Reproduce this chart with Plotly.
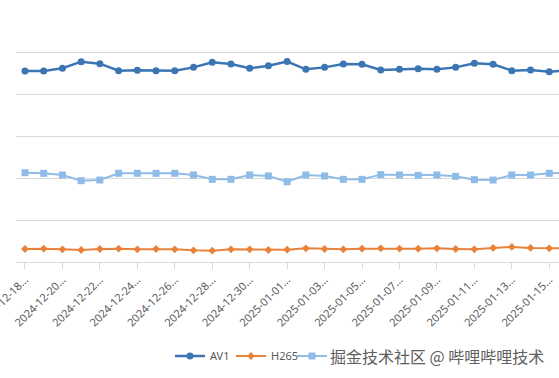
import plotly.graph_objects as go

dates = [
    "2024-12-18", "2024-12-19", "2024-12-20", "2024-12-21", "2024-12-22",
    "2024-12-23", "2024-12-24", "2024-12-25", "2024-12-26", "2024-12-27",
    "2024-12-28", "2024-12-29", "2024-12-30", "2024-12-31", "2025-01-01",
    "2025-01-02", "2025-01-03", "2025-01-04", "2025-01-05", "2025-01-06",
    "2025-01-07", "2025-01-08", "2025-01-09", "2025-01-10", "2025-01-11",
    "2025-01-12", "2025-01-13", "2025-01-14", "2025-01-15", "2025-01-16",
]

av1 = [22.74, 22.74, 23.06, 23.85, 23.61, 22.78, 22.82, 22.78, 22.78, 23.17,
       23.77, 23.57, 23.06, 23.37, 23.87, 22.94, 23.17, 23.57, 23.53, 22.86,
       22.94, 23.02, 22.94, 23.17, 23.65, 23.53, 22.78, 22.86, 22.66, 22.82]

h265 = [1.55, 1.59, 1.51, 1.43, 1.55, 1.59, 1.51, 1.55, 1.51, 1.39,
        1.35, 1.51, 1.51, 1.43, 1.47, 1.63, 1.55, 1.51, 1.59, 1.63,
        1.59, 1.59, 1.63, 1.55, 1.51, 1.67, 1.79, 1.67, 1.63, 1.63]

h264 = [10.63, 10.56, 10.36, 9.68, 9.76, 10.56, 10.56, 10.56, 10.56, 10.36,
        9.84, 9.84, 10.36, 10.24, 9.56, 10.36, 10.24, 9.84, 9.84, 10.40,
        10.36, 10.32, 10.36, 10.20, 9.80, 9.76, 10.36, 10.36, 10.56, 10.60]

tick_dates = dates[0:29:2]
tick_labels = [d + "…" for d in tick_dates]

fig = go.Figure()
fig.add_trace(go.Scatter(
    x=dates, y=av1, name="AV1", mode="lines+markers",
    line=dict(color="#3B75B4", width=2.5),
    marker=dict(symbol="circle", size=7, color="#3B75B4"),
))
fig.add_trace(go.Scatter(
    x=dates, y=h265, name="H265", mode="lines+markers",
    line=dict(color="#E8823A", width=2),
    marker=dict(symbol="diamond", size=6, color="#E8823A"),
))
fig.add_trace(go.Scatter(
    x=dates, y=h264, name="H264", mode="lines+markers",
    line=dict(color="#8FBCE6", width=2),
    marker=dict(symbol="square", size=7, color="#8FBCE6"),
))

fig.update_layout(
    width=559, height=378,
    margin=dict(l=16, r=0, t=10, b=116, autoexpand=False),
    paper_bgcolor="white", plot_bgcolor="white",
    font=dict(family="Noto Sans, Noto Sans CJK SC, sans-serif", color="#595959"),
    showlegend=True,
    legend=dict(
        orientation="h", x=0.2836, xanchor="left", y=-0.373, yanchor="middle",
        font=dict(size=11, color="#595959"), bgcolor="rgba(0,0,0,0)",
        entrywidth=16, entrywidthmode="pixels",
    ),
    xaxis=dict(
        type="category", range=[-0.48, 28.52],
        tickmode="array", tickvals=tick_dates, ticktext=tick_labels,
        tickangle=-45, ticks="outside", ticklen=6, tickcolor="#d9d9d9",
        showgrid=False, showline=True, linecolor="#d9d9d9", linewidth=1,
        tickfont=dict(size=11, color="#595959"), automargin=False,
    ),
    yaxis=dict(
        range=[0, 30], dtick=5, showgrid=True, gridcolor="#d9d9d9", gridwidth=1,
        showticklabels=False, zeroline=False, automargin=False,
    ),
    annotations=[
        dict(
            text="掘金技术社区 @ 哔哩哔哩技术", xref="paper", yref="paper",
            x=0.776, y=-0.373, xanchor="center", yanchor="middle", showarrow=False,
            font=dict(family="Noto Sans CJK SC", size=16, color="#606060"),
            bgcolor="rgba(255,255,255,0.92)",
        ),
    ],
)

fig.write_html(
    "out.html",
    config={"displayModeBar": False},
    post_script="document.body.style.margin='0';document.body.style.overflow='hidden';",
)
